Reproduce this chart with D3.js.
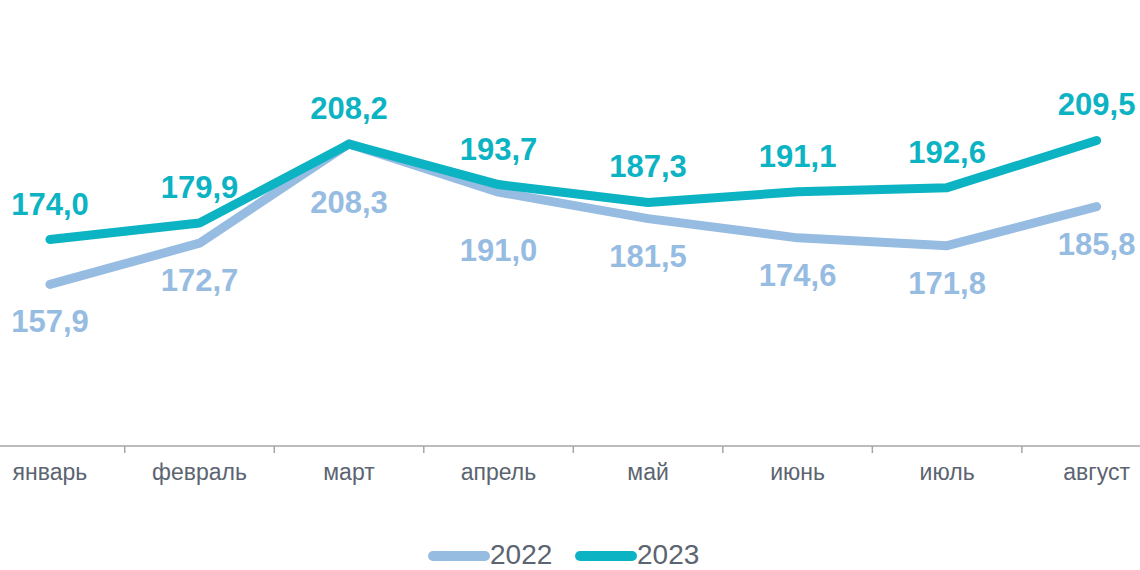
<!DOCTYPE html>
<html>
<head>
<meta charset="utf-8">
<script src="https://cdn.jsdelivr.net/npm/d3@7"></script>
<style>
  body { margin: 0; background: #fff; }
  svg { display: block; font-family: Arial, "Liberation Sans", sans-serif; }
</style>
</head>
<body>
<svg id="chart"></svg>
<script>
// DATA
const months = ["январь", "февраль", "март", "апрель", "май", "июнь", "июль", "август"];
const values2022 = [157.9, 172.7, 208.3, 191.0, 181.5, 174.6, 171.8, 185.8];
const values2023 = [174.0, 179.9, 208.2, 193.7, 187.3, 191.1, 192.6, 209.5];
const seriesNames = ["2022", "2023"];
const seriesColors = ["#97BCE2", "#0BB3C3"];

const width = 1140, height = 570;
const fmt = v => v.toFixed(1).replace(".", ",");

const svg = d3.select("#chart")
    .attr("width", width)
    .attr("height", height);

// SCALES
const xScale = d3.scaleBand()
    .domain(months)
    .range([-24.8, 1171.4]);

const yScale = d3.scaleLinear()
    .domain([100, 250])
    .range([446, 27.5]);

const xc = m => xScale(m) + xScale.bandwidth() / 2;

// AXIS
const xAxis = svg.append("g")
    .attr("transform", `translate(0, ${yScale(100)})`)
    .call(d3.axisBottom(xScale).tickSize(0).tickPadding(18));

xAxis.select(".domain").remove();
xAxis.append("line")
    .attr("x1", 0).attr("x2", width)
    .attr("stroke", "#a6a6a6").attr("stroke-width", 1.5);

// tick marks between categories
xAxis.selectAll("line.sep")
    .data(months.slice(1))
    .join("line")
    .attr("class", "sep")
    .attr("x1", d => xScale(d)).attr("x2", d => xScale(d))
    .attr("y1", 0).attr("y2", 7)
    .attr("stroke", "#a6a6a6").attr("stroke-width", 1.5);

xAxis.selectAll(".tick text")
    .attr("font-size", 23)
    .attr("fill", "#5b6470")
    .attr("font-family", "Arial, 'Liberation Sans', sans-serif");

// LINES
const series = [values2022, values2023];
const line = d3.line()
    .x((d, i) => xc(months[i]))
    .y(d => yScale(d));

series.forEach((vals, s) => {
    svg.append("path")
        .datum(vals)
        .attr("d", line)
        .attr("fill", "none")
        .attr("stroke", seriesColors[s])
        .attr("stroke-width", 9)
        .attr("stroke-linecap", "round")
        .attr("stroke-linejoin", "round");
});

// LABELS
// 2022 below the line, 2023 above it
svg.selectAll("text.lab2022")
    .data(values2022)
    .join("text")
    .attr("class", "lab2022")
    .attr("x", (d, i) => xc(months[i]))
    .attr("y", (d, i) => {
        const close = Math.abs(yScale(d) - yScale(values2023[i])) < 15;
        return yScale(d) + (close ? 69 : 48);
    })
    .attr("text-anchor", "middle")
    .attr("font-size", 31)
    .attr("font-weight", "bold")
    .attr("fill", seriesColors[0])
    .text(d => fmt(d));

svg.selectAll("text.lab2023")
    .data(values2023)
    .join("text")
    .attr("class", "lab2023")
    .attr("x", (d, i) => xc(months[i]))
    .attr("y", d => yScale(d) - 25)
    .attr("text-anchor", "middle")
    .attr("font-size", 31)
    .attr("font-weight", "bold")
    .attr("fill", seriesColors[1])
    .text(d => fmt(d));

// LEGEND
const legend = svg.append("g")
    .attr("transform", "translate(433, 556)");

const legItems = legend.selectAll("g")
    .data(seriesNames)
    .join("g")
    .attr("transform", (d, i) => `translate(${i * 147}, 0)`);

legItems.append("line")
    .attr("x1", 0).attr("x2", 52)
    .attr("stroke", (d, i) => seriesColors[i])
    .attr("stroke-width", 10)
    .attr("stroke-linecap", "round");

legItems.append("text")
    .attr("x", 57)
    .attr("y", 8)
    .attr("font-size", 28)
    .attr("fill", "#5b6470")
    .text(d => d);
</script>
</body>
</html>
